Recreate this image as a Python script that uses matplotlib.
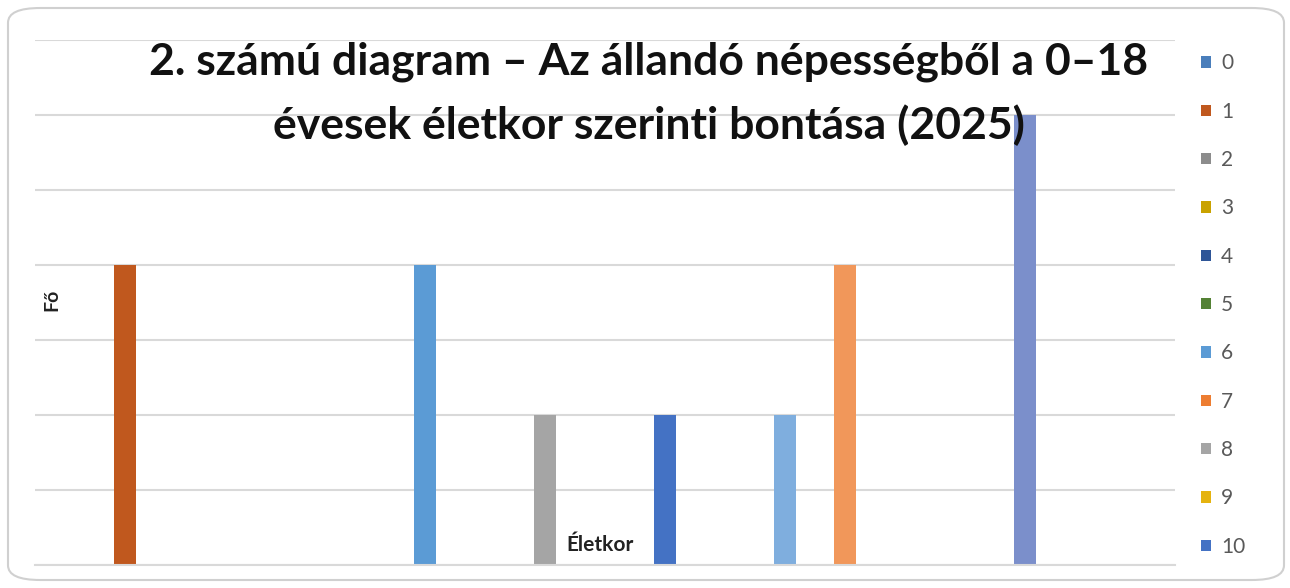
import matplotlib
matplotlib.use("Agg")
import matplotlib.pyplot as plt
from matplotlib.patches import FancyBboxPatch, Patch

# ------------------------------------------------------------------ data
ages = [str(a) for a in range(19)]
counts = [0, 4, 0, 0, 0, 0, 4, 0, 2, 0, 2, 0, 2, 4, 0, 0, 6, 0, 0]
colors = ['#4A7EBB', '#C0581E', '#8C8C8C', '#C9A200', '#2E5597', '#548235',
          '#5B9BD5', '#ED7D31', '#A5A5A5', '#E5B30F', '#4472C4', '#70AD47',
          '#7FAEDE', '#F1975A', '#B7B7B7', '#FFCD33', '#7B8FCB', '#8CC168',
          '#327DC2']
legend_shown = 11  # only 0..10 fit in the legend box
title_lines = ['2. számú diagram – Az állandó népességből a 0–18',
               'évesek életkor szerinti bontása (2025)']

# ------------------------------------------------------------------ figure
W, H = 1290, 588
plt.rcParams['font.family'] = ['Lato', 'DejaVu Sans']
fig = plt.figure(figsize=(W / 100, H / 100), dpi=100)

# rounded outer frame
frame = FancyBboxPatch((8 / W, 8 / H), 1276 / W, 572 / H,
                       boxstyle="round,pad=0,rounding_size=0.025",
                       transform=fig.transFigure, facecolor='white',
                       edgecolor='#D0D0D0', linewidth=1.5, zorder=-10)
fig.patches.append(frame)

ax = fig.add_axes([35 / W, (H - 565) / H, 1140 / W, 525 / H])
ax.set_facecolor('none')

x = list(range(len(ages)))
ax.bar(x, counts, width=0.37, color=colors, zorder=2)

ax.set_xlim(-0.5, len(ages) - 0.5)
ax.set_ylim(0, 7)
ax.set_yticks(range(0, 8))
ax.set_xticks([])
ax.tick_params(axis='y', length=0, labelleft=False)
ax.grid(True, axis='y', color='#D9D9D9', linewidth=1.5, zorder=0)
for s in ['top', 'right', 'left']:
    ax.spines[s].set_visible(False)
ax.spines['bottom'].set_color('#D9D9D9')
ax.spines['bottom'].set_linewidth(1.5)

# title: white box hides the gridlines (under the bars), text on top
for i, line in enumerate(title_lines):
    yy = 1 - (62 + i * 63) / H
    ax.text(0.503, yy, line, transform=fig.transFigure, ha='center',
            va='center', fontsize=32, fontweight='bold', color='white',
            zorder=1, bbox=dict(facecolor='white', edgecolor='none', pad=0))
    fig.text(0.503, yy, line, ha='center', va='center', fontsize=32,
             fontweight='bold', color='#111111', zorder=5)

ax.text(0.015, 0.505, 'Fő', transform=ax.transAxes, rotation=90,
        ha='center', va='center', fontsize=14, fontweight='bold',
        color='#222222')
ax.text(8.92, 0.27, 'Életkor', ha='center', va='center', fontsize=15,
        fontweight='bold', color='#222222', zorder=3)

handles = [Patch(facecolor=colors[i], edgecolor='none', label=ages[i])
           for i in range(legend_shown)]
fig.legend(handles=handles, loc='upper left',
           bbox_to_anchor=(1191 / W, 1 - 43 / H), frameon=False,
           fontsize=15, labelcolor='#595959', handlelength=0.45,
           handleheight=0.45, handletextpad=0.5, labelspacing=1.36,
           borderpad=0)

fig.savefig('out.png', dpi=100)
